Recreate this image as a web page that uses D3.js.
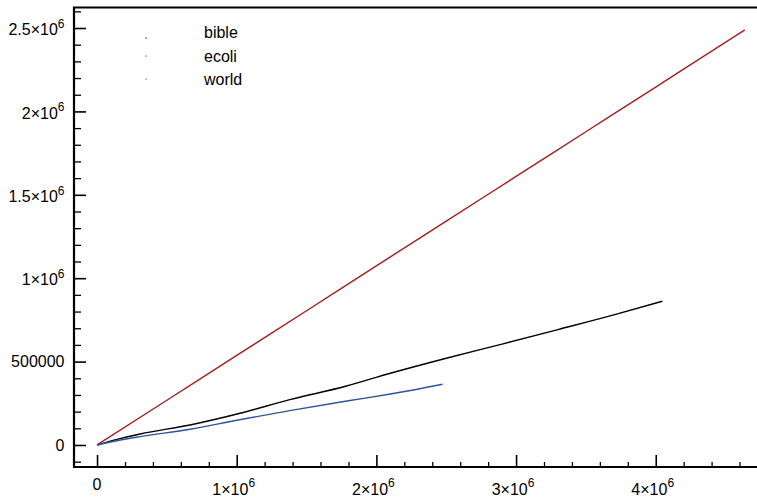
<!DOCTYPE html>
<html>
<head>
<meta charset="utf-8">
<script src="https://cdn.jsdelivr.net/npm/d3@7/dist/d3.min.js"></script>
<style>
  html, body { margin: 0; padding: 0; background: #fff; }
  svg { display: block; }
  text { font-family: "Liberation Sans", Arial, Helvetica, sans-serif; }
</style>
</head>
<body>
<svg id="chart" width="757" height="498"></svg>
<script>
// ---- data (file size in bytes vs. output size) ----
const seriesNames = ["bible", "ecoli", "world"];
const seriesColors = ["#000000", "#a31f1f", "#2a55a0"];

const bibleX = [0, 150000, 308000, 666000, 1024000, 1380000, 1780000, 2100000, 2500000, 2900000, 3300000, 3700000, 4047000];
const bibleY = [0, 35000, 66000, 120000, 190000, 272000, 352000, 430000, 520000, 605000, 692000, 780000, 862000];

const ecoliX = [0, 500000, 1000000, 1500000, 2100000, 2500000, 3000000, 3500000, 4000000, 4300000, 4638000];
const ecoliY = [0, 268000, 537000, 805000, 1128000, 1342000, 1610000, 1878000, 2146000, 2308000, 2489000];

const worldX = [0, 150000, 308000, 666000, 1000000, 1380000, 1800000, 2100000, 2264000, 2474000];
const worldY = [0, 27000, 50000, 94000, 148000, 206000, 265000, 306000, 330000, 364000];

const xMajorTicks = [0, 1000000, 2000000, 3000000, 4000000];
const xTickLabels = [["0", null], ["1×10", "6"], ["2×10", "6"], ["3×10", "6"], ["4×10", "6"]];
const yMajorTicks = [0, 500000, 1000000, 1500000, 2000000, 2500000];
const yTickLabels = [["0", null], ["500000", null], ["1×10", "6"], ["1.5×10", "6"], ["2×10", "6"], ["2.5×10", "6"]];

(function () {
// ---- layout ----
const svg = d3.select("#chart");
const pLeft = 74, pRight = 757, pTop = 7.5, pBottom = 467;
const fs = 16;

const x = d3.scaleLinear().domain([-165000, 4725000]).range([pLeft, pRight]);
const y = d3.scaleLinear().domain([-132000, 2623000]).range([pBottom, pTop]);

const xMinor = d3.range(-1, 24).map(k => k * 200000).filter(v => v >= -165000 && v <= 4725000 && xMajorTicks.indexOf(v) < 0);
const yMinor = d3.range(-1, 27).map(k => k * 100000).filter(v => v >= -132000 && v <= 2623000 && yMajorTicks.indexOf(v) < 0);

// minor ticks
svg.append("g").attr("transform", `translate(0,${pBottom})`)
  .call(d3.axisBottom(x).tickValues(xMinor).tickSize(-5).tickFormat(""))
  .call(g => g.select(".domain").remove())
  .call(g => g.selectAll("line").attr("stroke", "#000").attr("stroke-width", 1.3));
svg.append("g").attr("transform", `translate(${pLeft},0)`)
  .call(d3.axisLeft(y).tickValues(yMinor).tickSize(-7).tickFormat(""))
  .call(g => g.select(".domain").remove())
  .call(g => g.selectAll("line").attr("stroke", "#000").attr("stroke-width", 1.3));

// major ticks
svg.append("g").attr("transform", `translate(0,${pBottom})`)
  .call(d3.axisBottom(x).tickValues(xMajorTicks).tickSize(-12).tickFormat(""))
  .call(g => g.select(".domain").remove())
  .call(g => g.selectAll("line").attr("stroke", "#000").attr("stroke-width", 1.6));
svg.append("g").attr("transform", `translate(${pLeft},0)`)
  .call(d3.axisLeft(y).tickValues(yMajorTicks).tickSize(-12).tickFormat(""))
  .call(g => g.select(".domain").remove())
  .call(g => g.selectAll("line").attr("stroke", "#000").attr("stroke-width", 1.6));

// tick labels
function addLabel(sel, lab) {
  sel.append("tspan").text(lab[0]);
  if (lab[1]) sel.append("tspan").attr("dy", -7.5).attr("font-size", 12).text(lab[1]);
}
xMajorTicks.forEach((v, i) => {
  const lab = xTickLabels[i];
  const t = svg.append("text").attr("x", x(v) + (lab[1] ? -3 : 0)).attr("y", lab[1] ? 494.5 : 490)
    .attr("text-anchor", "middle").attr("font-size", fs).attr("fill", "#000");
  addLabel(t, lab);
});
yMajorTicks.forEach((v, i) => {
  const lab = yTickLabels[i];
  const t = svg.append("text").attr("x", 64.5).attr("y", y(v) + (lab[1] ? 7.2 : 5.6))
    .attr("text-anchor", "end").attr("font-size", fs).attr("fill", "#000");
  addLabel(t, lab);
});

// frame
svg.append("path")
  .attr("d", `M${pLeft},${pBottom}V${pTop}H${pRight + 2}`)
  .attr("fill", "none").attr("stroke", "#000").attr("stroke-width", 2.2);
svg.append("path")
  .attr("d", `M${pLeft - 1},${pBottom}H${pRight + 2}`)
  .attr("fill", "none").attr("stroke", "#000").attr("stroke-width", 2.2);

// lines
const line = d3.line().x(d => x(d[0])).y(d => y(d[1])).curve(d3.curveMonotoneX);
const seriesData = [
  d3.zip(bibleX, bibleY),
  d3.zip(ecoliX, ecoliY),
  d3.zip(worldX, worldY)
];
svg.append("g").selectAll("path").data(seriesData).join("path")
  .attr("d", line)
  .attr("fill", "none")
  .attr("stroke", (d, i) => seriesColors[i])
  .attr("stroke-width", 1.4)
  .attr("stroke-linejoin", "round");

// legend
const legendY = [38.3, 61.8, 85.3];
const legendDotY = [38, 56, 79];
const lg = svg.append("g");
seriesNames.forEach((name, i) => {
  lg.append("rect").attr("x", 145.5).attr("y", legendDotY[i] - 0.5).attr("width", 1.2).attr("height", 1.2)
    .attr("fill", seriesColors[i]).attr("opacity", 0.9);
  lg.append("text").attr("x", 204).attr("y", legendY[i]).attr("font-size", fs).attr("fill", "#000").text(name);
});
})();
</script>
</body>
</html>
